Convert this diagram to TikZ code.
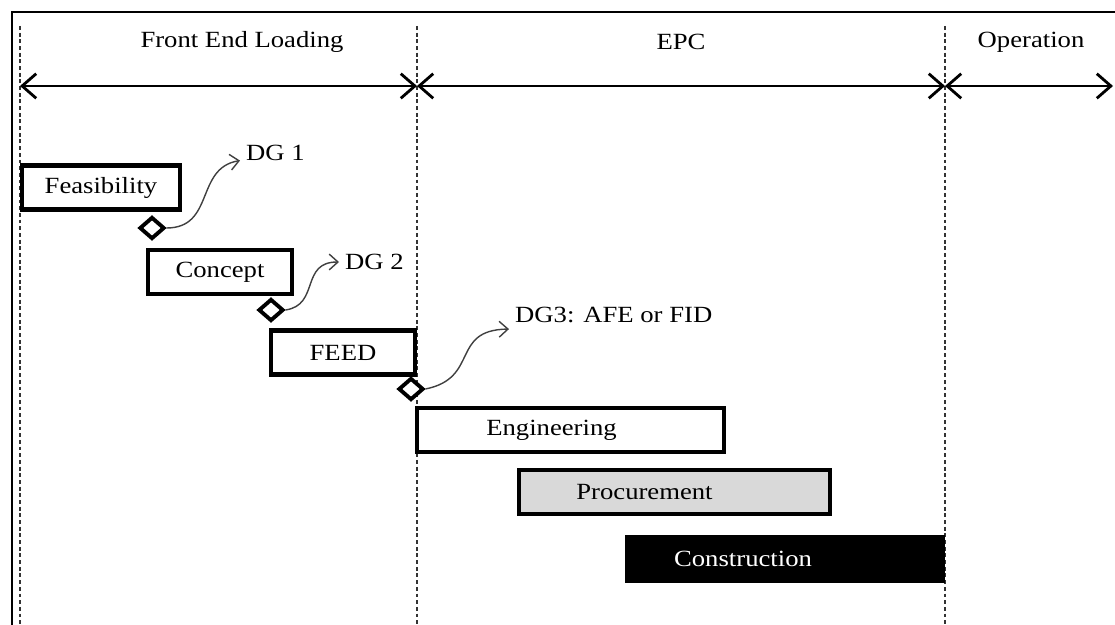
\documentclass[tikz,border=0pt]{standalone}
\usepackage{fontspec}
\setmainfont{Liberation Serif}[FakeStretch=1.15]
\usetikzlibrary{shapes.geometric,arrows.meta}

\begin{document}
\begin{tikzpicture}[x=0.02cm, y=-0.02cm, font=\fontsize{13.2}{15}\selectfont]
		\tikzset{phase/.style = {shape=rectangle, draw, line width=2.6pt, fill=white, minimum height=0.88cm, inner sep=0pt},
			gate/.style = {shape=diamond, draw, line width=2.2pt, fill=white, minimum width=0.5cm, minimum height=0.44cm, inner sep=0pt},
			divider/.style = {draw=black!80, line width=0.7pt, dash pattern=on 2.2pt off 1.6pt},
			span/.style = {<->, >={Straight Barb[length=8pt,width=14pt]}, line width=1.6pt},
			wave/.style = {->, >={Straight Barb[length=5pt,width=9pt]}, draw=black!75, line width=0.8pt}}

		\useasboundingbox (0,0) rectangle (1115,625);
		\draw[line width=1.4pt] (1115,12) -- (12,12) -- (12,625);

		\coordinate (T_1) at (20,26);
		\coordinate (T_2) at (417,26);
		\coordinate (T_3) at (945,26);
		\coordinate (U_1) at (20,625);
		\coordinate (U_2) at (417,625);
		\coordinate (U_3) at (945,625);
		\draw[divider] (T_1)--(U_1);
		\draw[divider] (T_2)--(U_2);
		\draw[divider] (T_3)--(U_3);

		\coordinate (H_0) at (20,86);
		\coordinate (H_1) at (417,86);
		\coordinate (H_2) at (945,86);
		\coordinate (H_3) at (1113,86);
		\draw[span] (H_0)--(H_1);
		\draw[span] (H_1)--(H_2);
		\draw[span] (H_2)--(H_3);

		\node (FEL) at (242,42) {Front End Loading};
		\node (EPC) at (681,42) {EPC};
		\node (OP) at (1031,42) {Operation};

		\node[phase, minimum width=3.16cm] (Feas) at (101,187.5) {Feasibility};
		\node[phase, minimum width=2.88cm] (Conc) at (220,272) {Concept};
		\node[phase, minimum width=2.88cm] (Feed) at (343,352.5) {FEED};
		\node[phase, minimum width=6.14cm, label={[xshift=-0.38cm]center:Engineering}] (Eng) at (570.5,430) {};
		\node[phase, minimum width=6.22cm, fill=black!15, label={[xshift=-0.6cm]center:Procurement}] (Proc) at (674.5,492) {};
		\node[phase, minimum width=6.32cm, fill=black, label={[xshift=-0.84cm, text=white]center:Construction}] (Cons) at (785,559) {};

		\node[gate] (G_1) at (152,228) {};
		\node[gate] (G_2) at (271,310) {};
		\node[gate] (G_3) at (411,389) {};

		\node[anchor=west] (L_1) at (240,153) {DG 1};
		\node[anchor=west] (L_2) at (339,262) {DG 2};
		\node[anchor=west] (L_3) at (509,315) {DG3: AFE or FID};

		\draw[wave] (G_1.east) .. controls (215,228) and (195,168) .. (L_1.base west);
		\draw[wave] (G_2.east) .. controls (320,305) and (300,262) .. (L_2.west);
		\draw[wave] (G_3.east) .. controls (480,378) and (450,330) .. (L_3.south west);

	\end{tikzpicture}
\end{document}
